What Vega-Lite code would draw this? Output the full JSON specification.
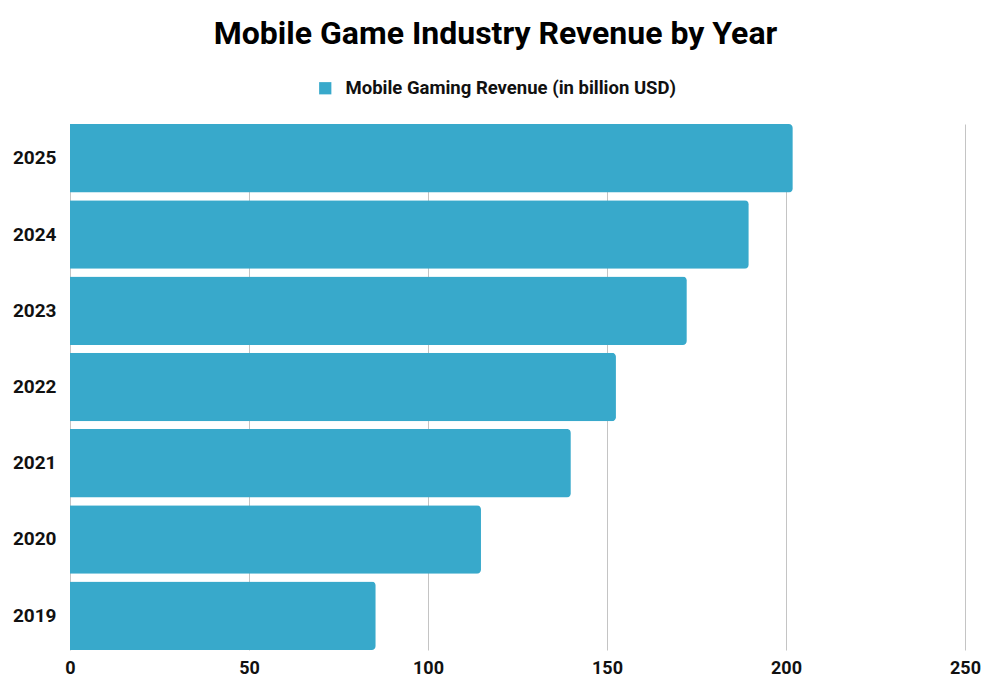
{
  "$schema": "https://vega.github.io/schema/vega-lite/v6.json",
  "autosize": "none",
  "width": 895,
  "height": 526,
  "padding": {"left": 70, "top": 124, "right": 27, "bottom": 36},
  "background": "white",
  "config": {
    "font": "Roboto",
    "view": {"stroke": null}
  },
  "title": {
    "text": "Mobile Game Industry Revenue by Year",
    "fontSize": 32,
    "fontWeight": "bold",
    "font": "Roboto",
    "color": "#000000",
    "anchor": "middle",
    "dx": -22,
    "offset": 28
  },
  "data": {
    "values": [
      {"year": "2019", "series": "Mobile Gaming Revenue (in billion USD)", "revenue": 85.4},
      {"year": "2020", "series": "Mobile Gaming Revenue (in billion USD)", "revenue": 114.8},
      {"year": "2021", "series": "Mobile Gaming Revenue (in billion USD)", "revenue": 139.9},
      {"year": "2022", "series": "Mobile Gaming Revenue (in billion USD)", "revenue": 152.5},
      {"year": "2023", "series": "Mobile Gaming Revenue (in billion USD)", "revenue": 172.3},
      {"year": "2024", "series": "Mobile Gaming Revenue (in billion USD)", "revenue": 189.6},
      {"year": "2025", "series": "Mobile Gaming Revenue (in billion USD)", "revenue": 201.9}
    ]
  },
  "mark": {"type": "bar", "cornerRadiusEnd": 4},
  "encoding": {
    "y": {
      "field": "year",
      "type": "ordinal",
      "sort": "descending",
      "scale": {"paddingInner": 0.1, "paddingOuter": 0},
      "axis": {
        "title": null,
        "ticks": false,
        "domain": false,
        "labelFontSize": 19,
        "labelFontWeight": "bold",
        "labelColor": "#111111",
        "labelPadding": 14
      }
    },
    "x": {
      "field": "revenue",
      "type": "quantitative",
      "scale": {"domain": [0, 250]},
      "axis": {
        "title": null,
        "values": [0, 50, 100, 150, 200, 250],
        "ticks": false,
        "domain": false,
        "grid": true,
        "gridColor": "#c4c4c4",
        "gridWidth": 1,
        "labelFlush": false,
        "labelFontSize": 18,
        "labelFontWeight": "bold",
        "labelColor": "#111111",
        "labelPadding": 9
      }
    },
    "color": {
      "field": "series",
      "type": "nominal",
      "scale": {"range": ["#38A9CB"]},
      "legend": {
        "title": null,
        "orient": "none",
        "legendX": 246,
        "legendY": -45,
        "symbolType": "square",
        "symbolSize": 150,
        "symbolStrokeWidth": 0,
        "labelFontSize": 18.5,
        "labelFontWeight": "bold",
        "labelColor": "#111111",
        "labelOffset": 11,
        "labelLimit": 500
      }
    }
  }
}
